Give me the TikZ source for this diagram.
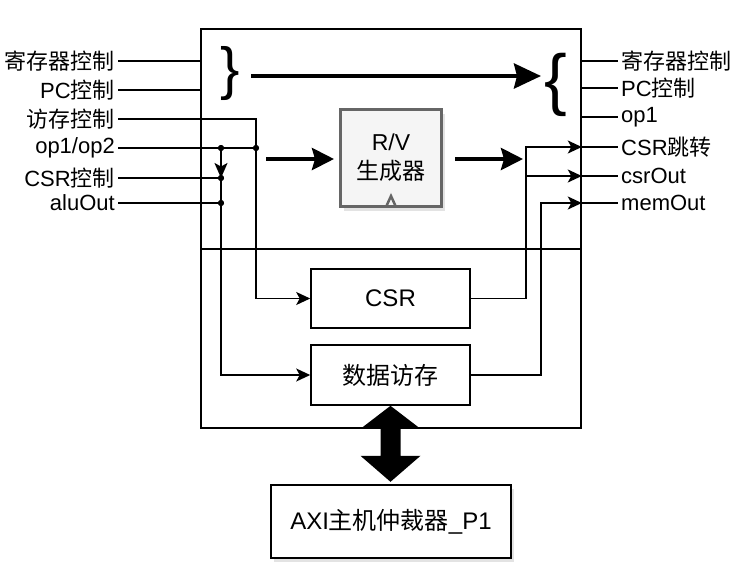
\documentclass[tikz,border=0pt]{standalone}
\usepackage{fontspec}
\setmainfont{Liberation Sans}
\newfontfamily\cjk{Noto Sans CJK SC}
\usetikzlibrary{arrows.meta,shadows,calc}

\tikzset{
  wire/.style={line width=1.8pt},
  sig/.style={wire,-{Stealth[length=14pt,width=13pt,inset=3.5pt]}},
  bus/.style={line width=4pt,-{Stealth[length=22pt,width=22pt,inset=3pt]}},
  unitbox/.style={draw,line width=1.6pt,fill=white,inner sep=0pt,font=\fontsize{24}{30}\selectfont},
  junc/.style={circle,fill,inner sep=0pt,minimum size=6pt},
  inlbl/.style={anchor=east,inner xsep=3pt,inner ysep=0pt},
  outlbl/.style={anchor=west,inner xsep=3pt,inner ysep=0pt},
  softshadow/.style={drop shadow={shadow xshift=3pt,shadow yshift=-4pt,opacity=0.22}}
}

\begin{document}
\begin{tikzpicture}[x=1pt,y=-1pt,font=\fontsize{22}{30}\selectfont]
  \useasboundingbox (0,0) rectangle (742,574);

  % outer core box and divider
  \node[draw,line width=1.6pt,minimum width=380pt,minimum height=399pt,inner sep=0pt] (core) at (391,228.5) {};
  \draw[line width=1.6pt] (core.west |- 0,249) -- (core.east |- 0,249);

  % units
  \node[unitbox,minimum width=159pt,minimum height=59pt] (csr) at (390.5,298.5) {CSR};
  \node[unitbox,minimum width=159pt,minimum height=60pt] (dmem) at (390.5,375) {\cjk 数据访存};
  \node[draw=black!60,line width=3pt,fill=black!4,minimum width=101pt,minimum height=97pt,
        inner sep=0pt,align=center,softshadow,font=\fontsize{23}{30}\selectfont] (rv) at (391,158) {R/V\\[-1pt]{\cjk 生成器}};
  \draw[black!60,line width=2.5pt] ($(rv.south)+(-5,-1)$) -- ($(rv.south)+(0,-12)$) -- ($(rv.south)+(5,-1)$);
  \node[unitbox,minimum width=240pt,minimum height=73pt,softshadow] (axi) at (391,521.5) {AXI{\cjk 主机仲裁器}\_P1};

  % inputs (left)
  \node[inlbl] (inReg) at (118,61)  {\cjk 寄存器控制};
  \node[inlbl] (inPC)  at (118,90)  {PC{\cjk 控制}};
  \node[inlbl] (inMem) at (118,119) {\cjk 访存控制};
  \node[inlbl] (inOp)  at (118,148) {op1/op2};
  \node[inlbl] (inCsr) at (118,178) {CSR{\cjk 控制}};
  \node[inlbl] (inAlu) at (118,203) {aluOut};

  % outputs (right)
  \node[outlbl] (outReg)  at (618,61)  {\cjk 寄存器控制};
  \node[outlbl] (outPC)   at (618,88)  {PC{\cjk 控制}};
  \node[outlbl] (outOp)   at (618,117) {op1};
  \node[outlbl] (outJmp)  at (618,147) {CSR{\cjk 跳转}};
  \node[outlbl] (outCsr)  at (618,176) {csrOut};
  \node[outlbl] (outMemo) at (618,203) {memOut};

  % junctions
  \node[junc] (dOp)  at (221,148) {};
  \node[junc] (dMem) at (256,148) {};
  \node[junc] (dCsr) at (221,178) {};
  \node[junc] (dAlu) at (221,203) {};

  % input wiring
  \draw[wire] (inReg.east) -- (inReg.east -| core.west);
  \draw[wire] (inPC.east) -- (inPC.east -| core.west);
  \draw[wire] (inOp.east) -- (dMem.center);
  \draw[wire] (inCsr.east) -- (dCsr.center);
  \draw[wire] (inAlu.east) -- (dAlu.center);
  \draw[sig] (inMem.east) -| (dMem.center) |- (csr.west);
  \draw[sig,-{Stealth[length=15pt,width=13pt,inset=3.5pt]}] (dOp.center) -- (dCsr.center);
  \draw[sig] (dCsr.center) |- (dmem.west);
  \node[junc] at (dOp) {};
  \node[junc] at (dMem) {};
  \node[junc] at (dCsr) {};
  \node[junc] at (dAlu) {};

  % output wiring
  \foreach \o in {outReg,outPC,outOp,outJmp,outCsr,outMemo}
    \draw[wire] (core.east |- \o.west) -- (\o.west);
  \coordinate (tapCsr) at ([xshift=55pt]csr.east);
  \coordinate (tapMem) at ([xshift=70pt]dmem.east);
  \draw[sig] (csr.east) -- (tapCsr) |- (core.east |- outJmp.west);
  \draw[sig] (tapCsr |- outCsr.west) -- (core.east |- outCsr.west);
  \draw[sig] (dmem.east) -- (tapMem) |- (core.east |- outMemo.west);

  % braces and wide arrows
  \node[inner sep=0pt,font=\fontsize{58}{58}\selectfont] (brL) at (230,73) {\}};
  \node[inner sep=0pt,font=\fontsize{68}{68}\selectfont] (brR) at (556,85) {\{};
  \coordinate (busL) at (251,76);
  \coordinate (busR) at (541,76);
  \draw[bus,-{Stealth[length=27pt,width=25pt,inset=3pt]}] (busL) -- (busR);
  \coordinate (rvInA) at ([xshift=-73pt,yshift=-1pt]rv.west);
  \coordinate (rvInB) at ([xshift=-5pt,yshift=-1pt]rv.west);
  \coordinate (rvOutA) at ([xshift=12pt,yshift=-1pt]rv.east);
  \coordinate (rvOutB) at ([xshift=80pt,yshift=-1pt]rv.east);
  \draw[bus] (rvInA) -- (rvInB);
  \draw[bus] (rvOutA) -- (rvOutB);

  % AXI link
  \fill (dmem.south) -- ++(30,23) -- ++(-20,0) -- ++(0,27) -- ++(20,0) -- ++(-30,26)
        -- ++(-30,-26) -- ++(20,0) -- ++(0,-27) -- ++(-20,0) -- cycle;
\end{tikzpicture}
\end{document}
